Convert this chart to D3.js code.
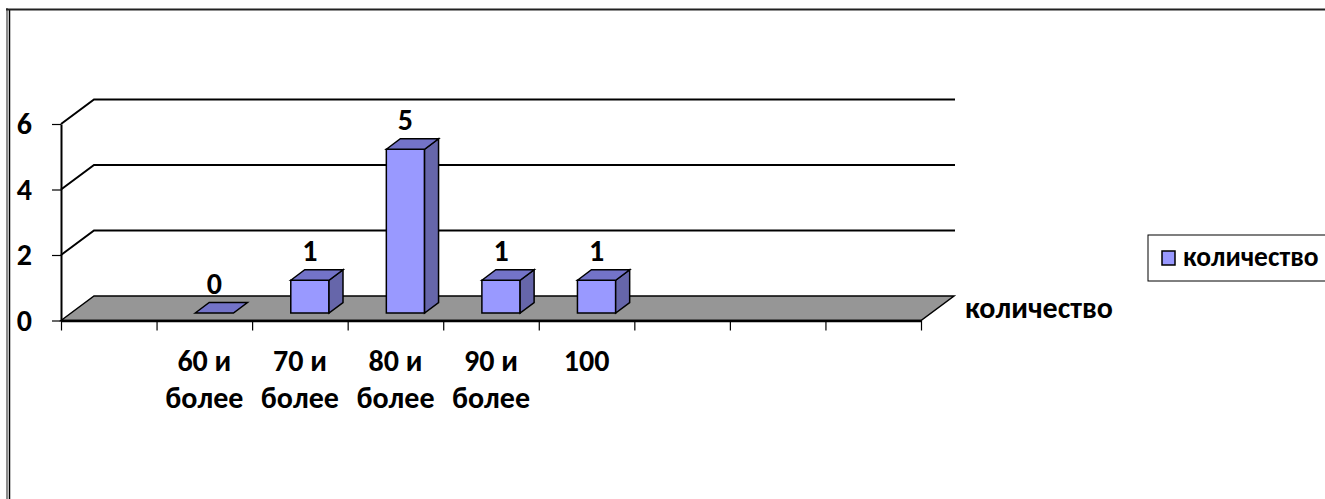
<!DOCTYPE html>
<html>
<head>
<meta charset="utf-8">
<script src="https://cdn.jsdelivr.net/npm/d3@7"></script>
<style>
  html, body { margin: 0; padding: 0; background: #fff; }
  svg text { font-family: Carlito, "Open Sans", sans-serif; font-weight: bold; fill: #000; }
</style>
</head>
<body>
<svg id="chart" width="1325" height="499"></svg>
<script>
// категории (первая и последние — пустые ячейки)
const categories = ["", "60 и более", "70 и более", "80 и более", "90 и более", "100", "", "", ""];
const values = [null, 0, 1, 5, 1, 1, null, null, null];
const seriesName = "количество";
const yTicks = [0, 2, 4, 6];

const svg = d3.select("#chart");
const fontSize = 30;

// рамка области диаграммы
svg.append("line").attr("x1", 7).attr("y1", 8).attr("x2", 7).attr("y2", 499)
    .attr("stroke", "#666").attr("stroke-width", 1.5);
svg.append("line").attr("x1", 9.5).attr("y1", 10).attr("x2", 9.5).attr("y2", 499)
    .attr("stroke", "#000").attr("stroke-width", 1.5);
svg.append("line").attr("x1", 6).attr("y1", 9.5).attr("x2", 1325).attr("y2", 9.5)
    .attr("stroke", "#222").attr("stroke-width", 2);

// шкалы
const idx = d3.range(categories.length);
const xBand = d3.scaleBand().domain(idx).range([61, 921]).padding(0);
const xEdge = d3.scaleLinear().domain([0, categories.length]).range([61, 921]);
const y = d3.scaleLinear().domain([0, 6]).range([320.5, 124]);

// глубина 3D
const depthX = 33, depthY = -24.5;
const wallRight = 955;

const g = svg.append("g");

// пол
const y0 = y(0);
g.append("path")
    .attr("d", `M${xEdge(0)},${y0} L${xEdge(0) + depthX},${y0 + depthY} L${xEdge(categories.length) + depthX},${y0 + depthY} L${xEdge(categories.length)},${y0} Z`)
    .attr("fill", "#969696")
    .attr("stroke", "#000")
    .attr("stroke-width", 1.5);

// линии сетки на стенке
g.selectAll(".grid")
    .data(yTicks.filter(d => d > 0))
    .enter()
    .append("path")
    .attr("class", "grid")
    .attr("d", d => `M${xEdge(0)},${y(d)} L${xEdge(0) + depthX},${y(d) + depthY} L${wallRight},${y(d) + depthY}`)
    .attr("fill", "none")
    .attr("stroke", "#000")
    .attr("stroke-width", 2);

// ось Y
const yAxis = g.append("g")
    .attr("transform", `translate(${xEdge(0)},0)`)
    .call(d3.axisLeft(y).tickValues(yTicks).tickFormat(d3.format("d")).tickSize(9).tickPadding(20).tickSizeOuter(0));
yAxis.select(".domain").attr("stroke", "#000").attr("stroke-width", 2);
yAxis.selectAll(".tick line").attr("stroke", "#000").attr("stroke-width", 1.2);
yAxis.selectAll(".tick text").attr("font-size", fontSize).attr("font-family", null);

// ось X
const xAxis = g.append("g")
    .attr("transform", `translate(0,${y0})`)
    .call(d3.axisBottom(xEdge).tickValues(d3.range(categories.length + 1)).tickSize(10).tickFormat("").tickSizeOuter(0));
xAxis.select(".domain").attr("stroke", "#000").attr("stroke-width", 2.5);
xAxis.selectAll(".tick line").attr("stroke", "#000").attr("stroke-width", 1.2);

// подписи категорий
const xLabels = g.selectAll(".xlabel")
    .data(idx.filter(i => categories[i] !== ""))
    .enter()
    .append("text")
    .attr("class", "xlabel")
    .attr("text-anchor", "middle")
    .attr("font-size", fontSize)
    .attr("transform", i => `translate(${xBand(i) + xBand.bandwidth() / 2},0)`);
xLabels.each(function(i) {
    const words = categories[i].split(" ");
    const lines = words.length > 2 ? [words.slice(0, 2).join(" "), words.slice(2).join(" ")] : [words.join(" ")];
    d3.select(this).selectAll("tspan")
        .data(lines)
        .enter()
        .append("tspan")
        .attr("x", 0)
        .attr("y", (d, k) => 371 + k * 37)
        .text(d => d);
});

// столбцы
const barFrac = 0.4;
const bw = xBand.bandwidth() * barFrac;
const bFrontX = 10, bFrontY = -7.5;   // передняя грань внутри глубины
const bDx = 14, bDy = -10.5;          // глубина столбца
const barData = idx.filter(i => values[i] !== null).map(i => ({ i, v: values[i] }));

const bars = g.selectAll(".bar")
    .data(barData)
    .enter()
    .append("g")
    .attr("class", "bar");

bars.each(function(d) {
    const x1 = xBand(d.i) + (xBand.bandwidth() - bw) / 2 + bFrontX;
    const x2 = x1 + bw;
    const yb = y(0) + bFrontY;
    const yt = y(d.v) + bFrontY;
    const sel = d3.select(this);
    if (d.v > 0) {
        // передняя грань
        sel.append("path")
            .attr("d", `M${x1},${yb} L${x1},${yt} L${x2},${yt} L${x2},${yb} Z`)
            .attr("fill", "#9999FF").attr("stroke", "#000").attr("stroke-width", 1.5);
        // боковая грань
        sel.append("path")
            .attr("d", `M${x2},${yb} L${x2},${yt} L${x2 + bDx},${yt + bDy} L${x2 + bDx},${yb + bDy} Z`)
            .attr("fill", "#6666AA").attr("stroke", "#000").attr("stroke-width", 1.5);
    }
    // верхняя грань
    sel.append("path")
        .attr("d", `M${x1},${yt} L${x1 + bDx},${yt + bDy} L${x2 + bDx},${yt + bDy} L${x2},${yt} Z`)
        .attr("fill", "#7373C8").attr("stroke", "#000").attr("stroke-width", 1.5);
    // подпись значения
    sel.append("text")
        .attr("x", (x1 + x2) / 2)
        .attr("y", yt + bDy - 9)
        .attr("text-anchor", "middle")
        .attr("font-size", fontSize)
        .text(d.v);
});

// название оси рядов
g.append("text")
    .attr("x", 965)
    .attr("y", 318)
    .attr("font-size", fontSize)
    .text(seriesName);

// легенда
const legend = svg.append("g").attr("transform", "translate(1148,235)");
legend.append("rect")
    .attr("x", 0).attr("y", 0).attr("width", 200).attr("height", 46)
    .attr("fill", "#fff").attr("stroke", "#000").attr("stroke-width", 1);
legend.append("rect")
    .attr("x", 14).attr("y", 16).attr("width", 13).attr("height", 14)
    .attr("fill", "#9999FF").attr("stroke", "#000").attr("stroke-width", 1.5);
legend.append("text")
    .attr("x", 35).attr("y", 31)
    .attr("font-size", 27.5)
    .text(seriesName);
</script>
</body>
</html>
